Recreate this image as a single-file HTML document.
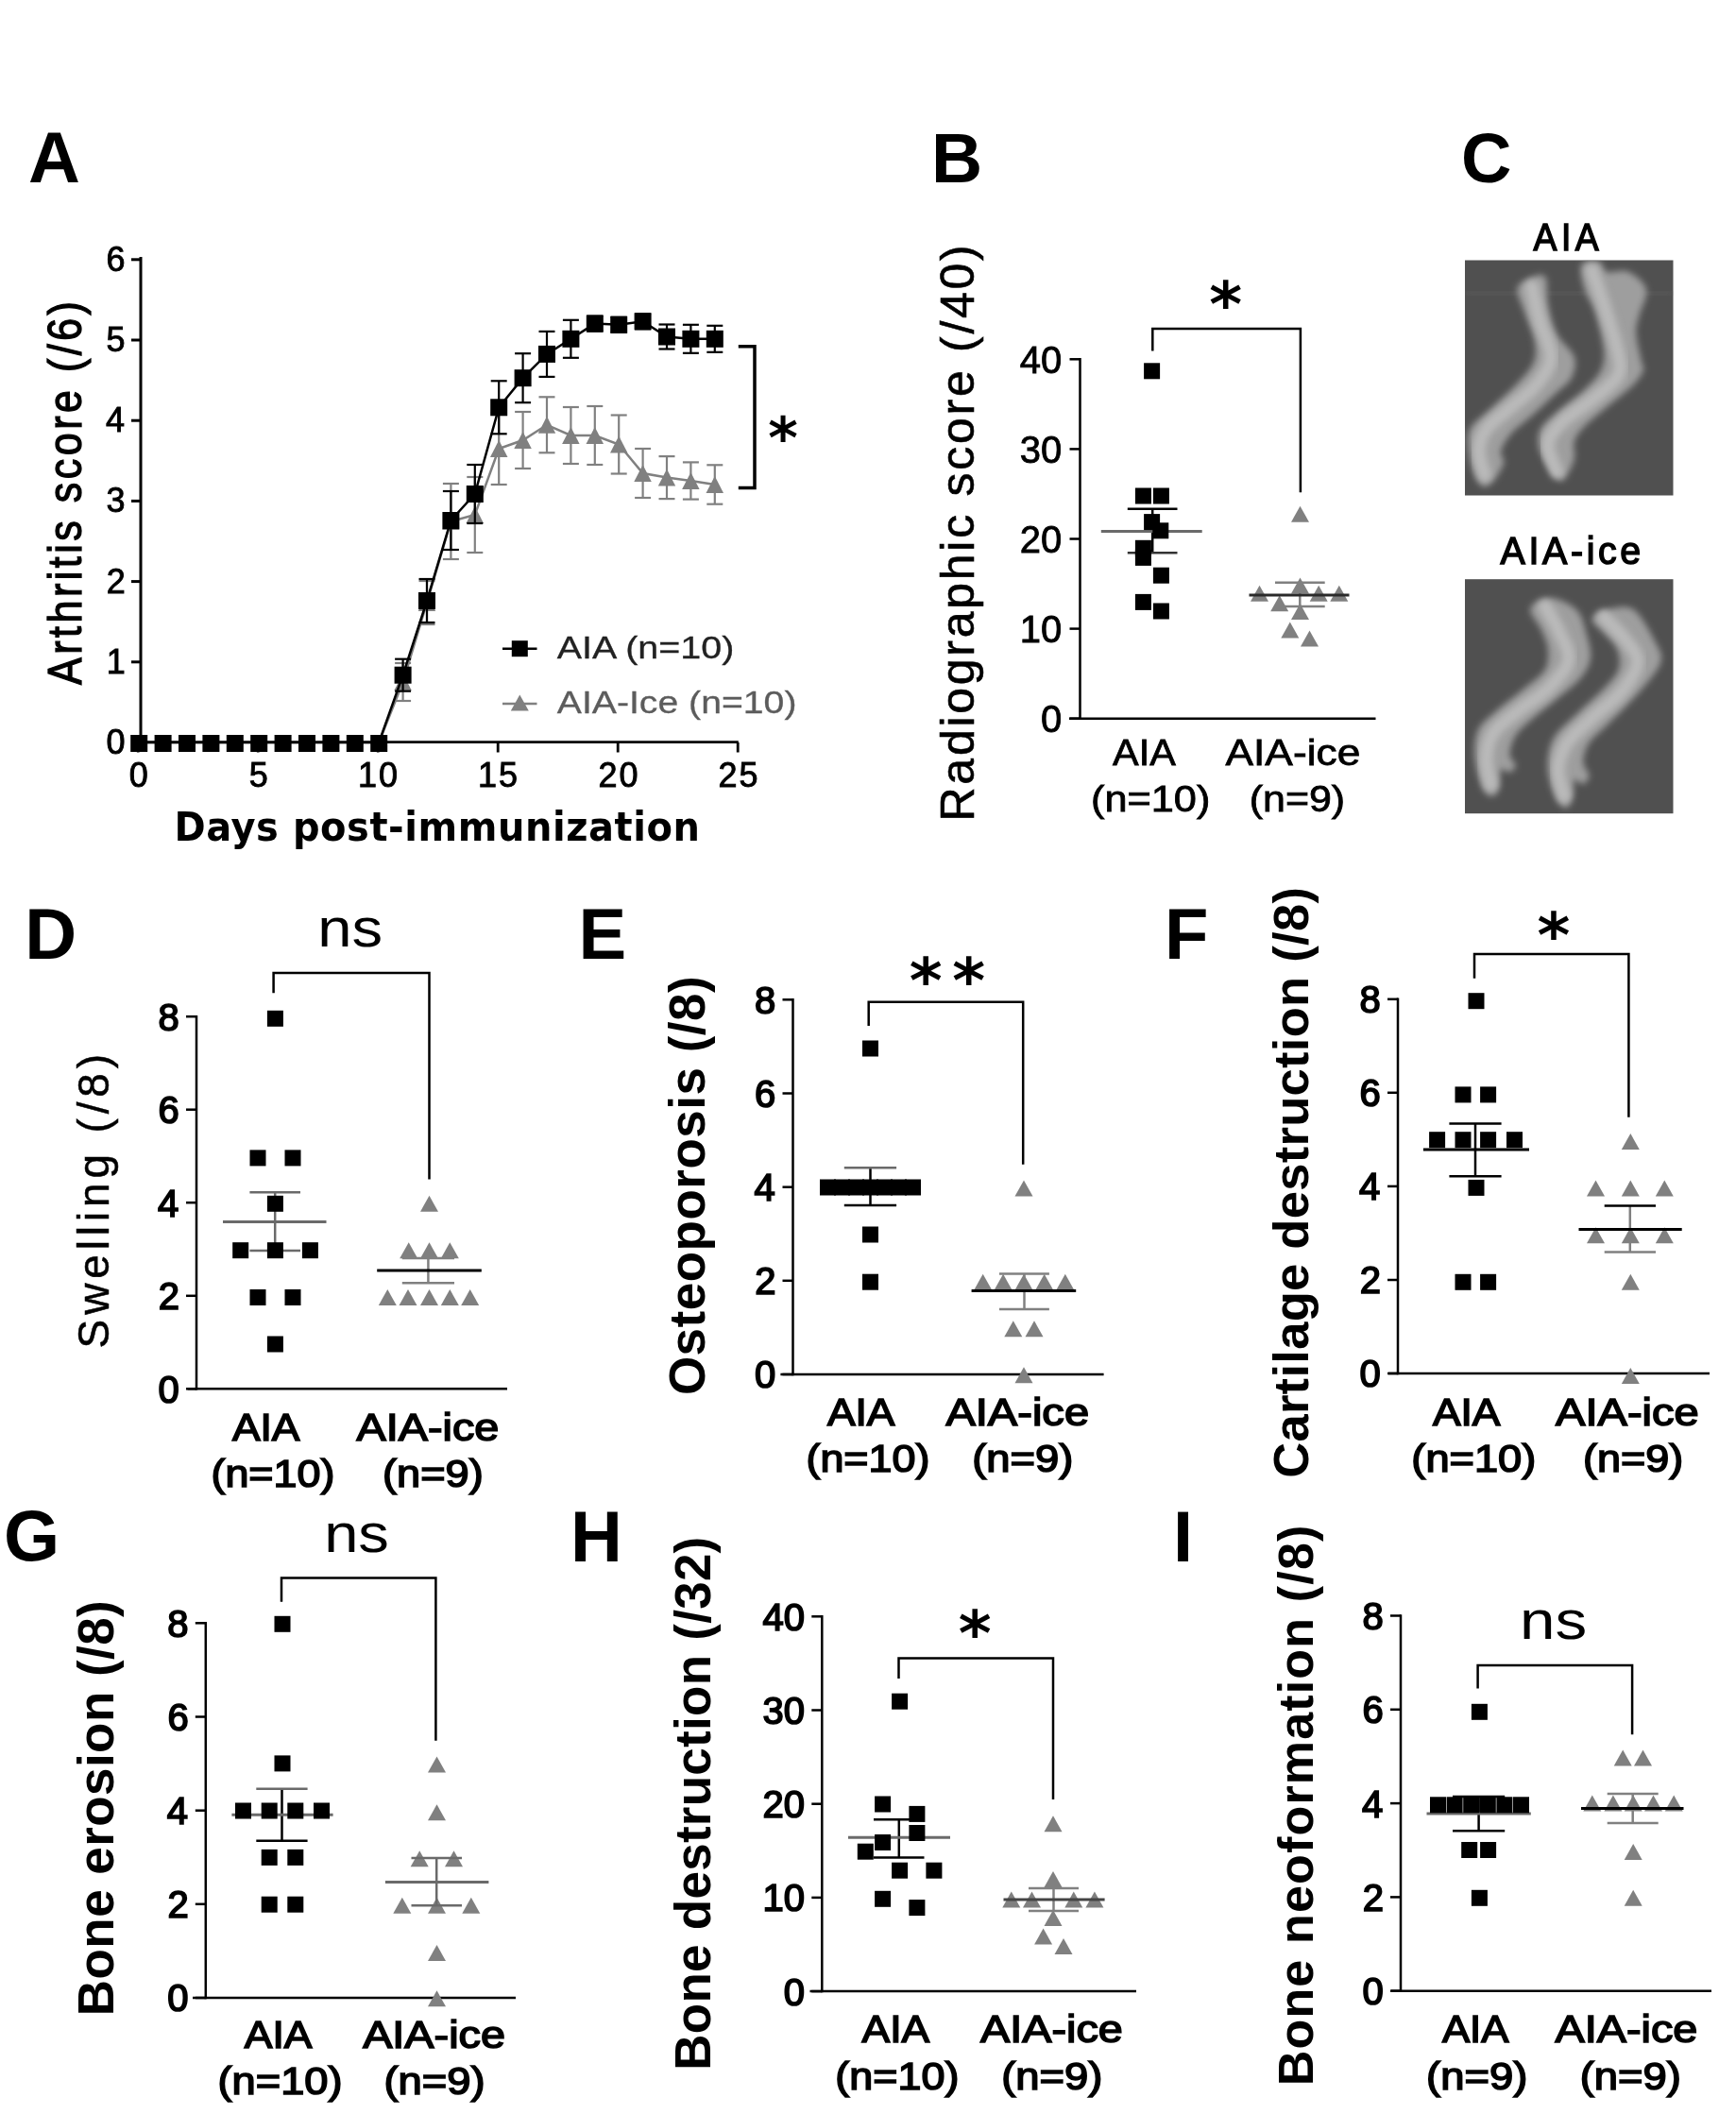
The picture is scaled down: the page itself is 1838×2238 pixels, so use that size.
<!DOCTYPE html>
<html><head><meta charset="utf-8"><title>Figure</title>
<style>html,body{margin:0;padding:0;background:#fff}svg{display:block;filter:blur(0.55px)}</style></head>
<body>
<svg width="1838" height="2238" viewBox="0 0 1838 2238">
<rect width="1838" height="2238" fill="#fff"/>
<defs><filter id="blur1" x="-10%" y="-10%" width="120%" height="120%"><feGaussianBlur stdDeviation="3.5"/></filter><filter id="blur2" x="-10%" y="-10%" width="120%" height="120%"><feGaussianBlur stdDeviation="3.5"/></filter></defs>
<text x="30.1" y="193.3" font-family='"Liberation Sans", sans-serif' font-size="76" font-weight="bold">A</text>
<line x1="149.0" y1="272.0" x2="149.0" y2="787.5" stroke="#000" stroke-width="3"/>
<line x1="147.5" y1="785.7" x2="781.8" y2="785.7" stroke="#000" stroke-width="2.8"/>
<line x1="139.0" y1="786.0" x2="149.0" y2="786.0" stroke="#000" stroke-width="3"/>
<line x1="139.0" y1="700.8" x2="149.0" y2="700.8" stroke="#000" stroke-width="3"/>
<line x1="139.0" y1="615.6" x2="149.0" y2="615.6" stroke="#000" stroke-width="3"/>
<line x1="139.0" y1="530.4" x2="149.0" y2="530.4" stroke="#000" stroke-width="3"/>
<line x1="139.0" y1="445.2" x2="149.0" y2="445.2" stroke="#000" stroke-width="3"/>
<line x1="139.0" y1="360.0" x2="149.0" y2="360.0" stroke="#000" stroke-width="3"/>
<line x1="139.0" y1="274.8" x2="149.0" y2="274.8" stroke="#000" stroke-width="3"/>
<line x1="146.2" y1="786.0" x2="146.2" y2="796.5" stroke="#000" stroke-width="2.8"/>
<line x1="273.2" y1="786.0" x2="273.2" y2="796.5" stroke="#000" stroke-width="2.8"/>
<line x1="400.2" y1="786.0" x2="400.2" y2="796.5" stroke="#000" stroke-width="2.8"/>
<line x1="527.2" y1="786.0" x2="527.2" y2="796.5" stroke="#000" stroke-width="2.8"/>
<line x1="654.2" y1="786.0" x2="654.2" y2="796.5" stroke="#000" stroke-width="2.8"/>
<line x1="781.2" y1="786.0" x2="781.2" y2="796.5" stroke="#000" stroke-width="2.8"/>
<text x="112.5" y="798.0" font-family='"Liberation Sans", sans-serif' font-size="36" font-weight="normal" letter-spacing="0.00" fill="#000" stroke="#000" stroke-width="0.9">0</text>
<text x="112.8" y="712.8" font-family='"Liberation Sans", sans-serif' font-size="36" font-weight="normal" letter-spacing="0.00" fill="#000" stroke="#000" stroke-width="0.9">1</text>
<text x="112.8" y="627.6" font-family='"Liberation Sans", sans-serif' font-size="36" font-weight="normal" letter-spacing="0.00" fill="#000" stroke="#000" stroke-width="0.9">2</text>
<text x="112.6" y="542.4" font-family='"Liberation Sans", sans-serif' font-size="36" font-weight="normal" letter-spacing="0.00" fill="#000" stroke="#000" stroke-width="0.9">3</text>
<text x="112.1" y="457.2" font-family='"Liberation Sans", sans-serif' font-size="36" font-weight="normal" letter-spacing="0.00" fill="#000" stroke="#000" stroke-width="0.9">4</text>
<text x="112.5" y="372.0" font-family='"Liberation Sans", sans-serif' font-size="36" font-weight="normal" letter-spacing="0.00" fill="#000" stroke="#000" stroke-width="0.9">5</text>
<text x="112.6" y="286.8" font-family='"Liberation Sans", sans-serif' font-size="36" font-weight="normal" letter-spacing="0.00" fill="#000" stroke="#000" stroke-width="0.9">6</text>
<text x="136.7" y="833.0" font-family='"Liberation Sans", sans-serif' font-size="36" font-weight="normal" letter-spacing="0.00" fill="#000" stroke="#000" stroke-width="0.9">0</text>
<text x="263.7" y="833.0" font-family='"Liberation Sans", sans-serif' font-size="36" font-weight="normal" letter-spacing="0.00" fill="#000" stroke="#000" stroke-width="0.9">5</text>
<text x="379.1" y="833.0" font-family='"Liberation Sans", sans-serif' font-size="36" font-weight="normal" letter-spacing="2.00" fill="#000" stroke="#000" stroke-width="0.9">10</text>
<text x="506.1" y="833.0" font-family='"Liberation Sans", sans-serif' font-size="36" font-weight="normal" letter-spacing="2.00" fill="#000" stroke="#000" stroke-width="0.9">15</text>
<text x="633.5" y="833.0" font-family='"Liberation Sans", sans-serif' font-size="36" font-weight="normal" letter-spacing="2.00" fill="#000" stroke="#000" stroke-width="0.9">20</text>
<text x="760.5" y="833.0" font-family='"Liberation Sans", sans-serif' font-size="36" font-weight="normal" letter-spacing="2.00" fill="#000" stroke="#000" stroke-width="0.9">25</text>
<text transform="translate(85.5,724.8) rotate(-90) scale(0.86,1)" x="-0.2" y="0" font-family='"Liberation Sans", sans-serif' font-size="50" font-weight="normal" letter-spacing="4.08" fill="#000" stroke="#000" stroke-width="1.3">Arthritis score (/6)</text>
<text transform="translate(188.0,890.0) scale(0.92,1)" x="-3.9" y="0" font-family='"DejaVu Sans", sans-serif' font-size="43.5" font-weight="bold" letter-spacing="0.58" fill="#000">Days post-immunization</text>
<path d="M147.2,786.0 L172.6,786.0 L198.0,786.0 L223.4,786.0 L248.8,786.0 L274.2,786.0 L299.6,786.0 L325.0,786.0 L350.4,786.0 L375.8,786.0 L401.2,786.0 L426.6,722.0 L452.0,638.0 L477.4,552.0 L502.8,545.0 L528.2,475.0 L553.6,466.0 L579.0,449.8 L604.4,461.0 L629.8,461.0 L655.2,470.5 L680.6,501.0 L706.0,505.6 L731.4,509.0 L756.8,513.0" stroke="#808080" stroke-width="2.5" fill="none"/>
<line x1="426.6" y1="702.0" x2="426.6" y2="742.0" stroke="#808080" stroke-width="2.2"/>
<line x1="418.1" y1="702.0" x2="435.1" y2="702.0" stroke="#808080" stroke-width="2.2"/>
<line x1="418.1" y1="742.0" x2="435.1" y2="742.0" stroke="#808080" stroke-width="2.2"/>
<line x1="452.0" y1="615.0" x2="452.0" y2="661.0" stroke="#808080" stroke-width="2.2"/>
<line x1="443.5" y1="615.0" x2="460.5" y2="615.0" stroke="#808080" stroke-width="2.2"/>
<line x1="443.5" y1="661.0" x2="460.5" y2="661.0" stroke="#808080" stroke-width="2.2"/>
<line x1="477.4" y1="512.0" x2="477.4" y2="592.0" stroke="#808080" stroke-width="2.2"/>
<line x1="468.9" y1="512.0" x2="485.9" y2="512.0" stroke="#808080" stroke-width="2.2"/>
<line x1="468.9" y1="592.0" x2="485.9" y2="592.0" stroke="#808080" stroke-width="2.2"/>
<line x1="502.8" y1="505.0" x2="502.8" y2="585.0" stroke="#808080" stroke-width="2.2"/>
<line x1="494.3" y1="505.0" x2="511.3" y2="505.0" stroke="#808080" stroke-width="2.2"/>
<line x1="494.3" y1="585.0" x2="511.3" y2="585.0" stroke="#808080" stroke-width="2.2"/>
<line x1="528.2" y1="437.0" x2="528.2" y2="513.0" stroke="#808080" stroke-width="2.2"/>
<line x1="519.7" y1="437.0" x2="536.7" y2="437.0" stroke="#808080" stroke-width="2.2"/>
<line x1="519.7" y1="513.0" x2="536.7" y2="513.0" stroke="#808080" stroke-width="2.2"/>
<line x1="553.6" y1="436.0" x2="553.6" y2="496.0" stroke="#808080" stroke-width="2.2"/>
<line x1="545.1" y1="436.0" x2="562.1" y2="436.0" stroke="#808080" stroke-width="2.2"/>
<line x1="545.1" y1="496.0" x2="562.1" y2="496.0" stroke="#808080" stroke-width="2.2"/>
<line x1="579.0" y1="420.3" x2="579.0" y2="479.3" stroke="#808080" stroke-width="2.2"/>
<line x1="570.5" y1="420.3" x2="587.5" y2="420.3" stroke="#808080" stroke-width="2.2"/>
<line x1="570.5" y1="479.3" x2="587.5" y2="479.3" stroke="#808080" stroke-width="2.2"/>
<line x1="604.4" y1="431.0" x2="604.4" y2="491.0" stroke="#808080" stroke-width="2.2"/>
<line x1="595.9" y1="431.0" x2="612.9" y2="431.0" stroke="#808080" stroke-width="2.2"/>
<line x1="595.9" y1="491.0" x2="612.9" y2="491.0" stroke="#808080" stroke-width="2.2"/>
<line x1="629.8" y1="430.0" x2="629.8" y2="492.0" stroke="#808080" stroke-width="2.2"/>
<line x1="621.3" y1="430.0" x2="638.3" y2="430.0" stroke="#808080" stroke-width="2.2"/>
<line x1="621.3" y1="492.0" x2="638.3" y2="492.0" stroke="#808080" stroke-width="2.2"/>
<line x1="655.2" y1="439.5" x2="655.2" y2="501.5" stroke="#808080" stroke-width="2.2"/>
<line x1="646.7" y1="439.5" x2="663.7" y2="439.5" stroke="#808080" stroke-width="2.2"/>
<line x1="646.7" y1="501.5" x2="663.7" y2="501.5" stroke="#808080" stroke-width="2.2"/>
<line x1="680.6" y1="475.0" x2="680.6" y2="527.0" stroke="#808080" stroke-width="2.2"/>
<line x1="672.1" y1="475.0" x2="689.1" y2="475.0" stroke="#808080" stroke-width="2.2"/>
<line x1="672.1" y1="527.0" x2="689.1" y2="527.0" stroke="#808080" stroke-width="2.2"/>
<line x1="706.0" y1="483.1" x2="706.0" y2="528.1" stroke="#808080" stroke-width="2.2"/>
<line x1="697.5" y1="483.1" x2="714.5" y2="483.1" stroke="#808080" stroke-width="2.2"/>
<line x1="697.5" y1="528.1" x2="714.5" y2="528.1" stroke="#808080" stroke-width="2.2"/>
<line x1="731.4" y1="489.4" x2="731.4" y2="528.6" stroke="#808080" stroke-width="2.2"/>
<line x1="722.9" y1="489.4" x2="739.9" y2="489.4" stroke="#808080" stroke-width="2.2"/>
<line x1="722.9" y1="528.6" x2="739.9" y2="528.6" stroke="#808080" stroke-width="2.2"/>
<line x1="756.8" y1="492.3" x2="756.8" y2="533.7" stroke="#808080" stroke-width="2.2"/>
<line x1="748.3" y1="492.3" x2="765.3" y2="492.3" stroke="#808080" stroke-width="2.2"/>
<line x1="748.3" y1="533.7" x2="765.3" y2="533.7" stroke="#808080" stroke-width="2.2"/>
<polygon points="426.6,713.0 435.8,731.0 417.3,731.0" fill="#808080"/>
<polygon points="452.0,629.0 461.2,647.0 442.7,647.0" fill="#808080"/>
<polygon points="477.4,543.0 486.6,561.0 468.1,561.0" fill="#808080"/>
<polygon points="502.8,536.0 512.0,554.0 493.5,554.0" fill="#808080"/>
<polygon points="528.2,466.0 537.5,484.0 519.0,484.0" fill="#808080"/>
<polygon points="553.6,457.0 562.8,475.0 544.3,475.0" fill="#808080"/>
<polygon points="579.0,440.8 588.2,458.8 569.8,458.8" fill="#808080"/>
<polygon points="604.4,452.0 613.6,470.0 595.1,470.0" fill="#808080"/>
<polygon points="629.8,452.0 639.0,470.0 620.5,470.0" fill="#808080"/>
<polygon points="655.2,461.5 664.5,479.5 646.0,479.5" fill="#808080"/>
<polygon points="680.6,492.0 689.8,510.0 671.3,510.0" fill="#808080"/>
<polygon points="706.0,496.6 715.2,514.6 696.8,514.6" fill="#808080"/>
<polygon points="731.4,500.0 740.6,518.0 722.1,518.0" fill="#808080"/>
<polygon points="756.8,504.0 766.0,522.0 747.5,522.0" fill="#808080"/>
<path d="M147.2,786.0 L172.6,786.0 L198.0,786.0 L223.4,786.0 L248.8,786.0 L274.2,786.0 L299.6,786.0 L325.0,786.0 L350.4,786.0 L375.8,786.0 L401.2,786.0 L426.6,714.7 L452.0,636.0 L477.4,551.0 L502.8,523.0 L528.2,431.3 L553.6,400.2 L579.0,374.9 L604.4,358.8 L629.8,342.6 L655.2,343.8 L680.6,340.3 L706.0,356.5 L731.4,358.8 L756.8,358.8" stroke="#000" stroke-width="2.5" fill="none"/>
<line x1="426.6" y1="697.7" x2="426.6" y2="731.7" stroke="#000" stroke-width="2.2"/>
<line x1="418.1" y1="697.7" x2="435.1" y2="697.7" stroke="#000" stroke-width="2.2"/>
<line x1="418.1" y1="731.7" x2="435.1" y2="731.7" stroke="#000" stroke-width="2.2"/>
<line x1="452.0" y1="613.0" x2="452.0" y2="659.0" stroke="#000" stroke-width="2.2"/>
<line x1="443.5" y1="613.0" x2="460.5" y2="613.0" stroke="#000" stroke-width="2.2"/>
<line x1="443.5" y1="659.0" x2="460.5" y2="659.0" stroke="#000" stroke-width="2.2"/>
<line x1="477.4" y1="520.0" x2="477.4" y2="582.0" stroke="#000" stroke-width="2.2"/>
<line x1="468.9" y1="520.0" x2="485.9" y2="520.0" stroke="#000" stroke-width="2.2"/>
<line x1="468.9" y1="582.0" x2="485.9" y2="582.0" stroke="#000" stroke-width="2.2"/>
<line x1="502.8" y1="492.0" x2="502.8" y2="554.0" stroke="#000" stroke-width="2.2"/>
<line x1="494.3" y1="492.0" x2="511.3" y2="492.0" stroke="#000" stroke-width="2.2"/>
<line x1="494.3" y1="554.0" x2="511.3" y2="554.0" stroke="#000" stroke-width="2.2"/>
<line x1="528.2" y1="403.3" x2="528.2" y2="459.3" stroke="#000" stroke-width="2.2"/>
<line x1="519.7" y1="403.3" x2="536.7" y2="403.3" stroke="#000" stroke-width="2.2"/>
<line x1="519.7" y1="459.3" x2="536.7" y2="459.3" stroke="#000" stroke-width="2.2"/>
<line x1="553.6" y1="374.2" x2="553.6" y2="426.2" stroke="#000" stroke-width="2.2"/>
<line x1="545.1" y1="374.2" x2="562.1" y2="374.2" stroke="#000" stroke-width="2.2"/>
<line x1="545.1" y1="426.2" x2="562.1" y2="426.2" stroke="#000" stroke-width="2.2"/>
<line x1="579.0" y1="350.9" x2="579.0" y2="398.9" stroke="#000" stroke-width="2.2"/>
<line x1="570.5" y1="350.9" x2="587.5" y2="350.9" stroke="#000" stroke-width="2.2"/>
<line x1="570.5" y1="398.9" x2="587.5" y2="398.9" stroke="#000" stroke-width="2.2"/>
<line x1="604.4" y1="338.8" x2="604.4" y2="378.8" stroke="#000" stroke-width="2.2"/>
<line x1="595.9" y1="338.8" x2="612.9" y2="338.8" stroke="#000" stroke-width="2.2"/>
<line x1="595.9" y1="378.8" x2="612.9" y2="378.8" stroke="#000" stroke-width="2.2"/>
<line x1="629.8" y1="334.6" x2="629.8" y2="350.6" stroke="#000" stroke-width="2.2"/>
<line x1="621.3" y1="334.6" x2="638.3" y2="334.6" stroke="#000" stroke-width="2.2"/>
<line x1="621.3" y1="350.6" x2="638.3" y2="350.6" stroke="#000" stroke-width="2.2"/>
<line x1="655.2" y1="335.8" x2="655.2" y2="351.8" stroke="#000" stroke-width="2.2"/>
<line x1="646.7" y1="335.8" x2="663.7" y2="335.8" stroke="#000" stroke-width="2.2"/>
<line x1="646.7" y1="351.8" x2="663.7" y2="351.8" stroke="#000" stroke-width="2.2"/>
<line x1="680.6" y1="332.3" x2="680.6" y2="348.3" stroke="#000" stroke-width="2.2"/>
<line x1="672.1" y1="332.3" x2="689.1" y2="332.3" stroke="#000" stroke-width="2.2"/>
<line x1="672.1" y1="348.3" x2="689.1" y2="348.3" stroke="#000" stroke-width="2.2"/>
<line x1="706.0" y1="343.5" x2="706.0" y2="369.5" stroke="#000" stroke-width="2.2"/>
<line x1="697.5" y1="343.5" x2="714.5" y2="343.5" stroke="#000" stroke-width="2.2"/>
<line x1="697.5" y1="369.5" x2="714.5" y2="369.5" stroke="#000" stroke-width="2.2"/>
<line x1="731.4" y1="343.8" x2="731.4" y2="373.8" stroke="#000" stroke-width="2.2"/>
<line x1="722.9" y1="343.8" x2="739.9" y2="343.8" stroke="#000" stroke-width="2.2"/>
<line x1="722.9" y1="373.8" x2="739.9" y2="373.8" stroke="#000" stroke-width="2.2"/>
<line x1="756.8" y1="344.8" x2="756.8" y2="372.8" stroke="#000" stroke-width="2.2"/>
<line x1="748.3" y1="344.8" x2="765.3" y2="344.8" stroke="#000" stroke-width="2.2"/>
<line x1="748.3" y1="372.8" x2="765.3" y2="372.8" stroke="#000" stroke-width="2.2"/>
<rect x="138.2" y="778.0" width="18" height="18" fill="#000"/>
<rect x="163.6" y="778.0" width="18" height="18" fill="#000"/>
<rect x="189.0" y="778.0" width="18" height="18" fill="#000"/>
<rect x="214.4" y="778.0" width="18" height="18" fill="#000"/>
<rect x="239.8" y="778.0" width="18" height="18" fill="#000"/>
<rect x="265.2" y="778.0" width="18" height="18" fill="#000"/>
<rect x="290.6" y="778.0" width="18" height="18" fill="#000"/>
<rect x="316.0" y="778.0" width="18" height="18" fill="#000"/>
<rect x="341.4" y="778.0" width="18" height="18" fill="#000"/>
<rect x="366.8" y="778.0" width="18" height="18" fill="#000"/>
<rect x="392.2" y="778.0" width="18" height="18" fill="#000"/>
<rect x="417.6" y="705.7" width="18" height="18" fill="#000"/>
<rect x="443.0" y="627.0" width="18" height="18" fill="#000"/>
<rect x="468.4" y="542.0" width="18" height="18" fill="#000"/>
<rect x="493.8" y="514.0" width="18" height="18" fill="#000"/>
<rect x="519.2" y="422.3" width="18" height="18" fill="#000"/>
<rect x="544.6" y="391.2" width="18" height="18" fill="#000"/>
<rect x="570.0" y="365.9" width="18" height="18" fill="#000"/>
<rect x="595.4" y="349.8" width="18" height="18" fill="#000"/>
<rect x="620.8" y="333.6" width="18" height="18" fill="#000"/>
<rect x="646.2" y="334.8" width="18" height="18" fill="#000"/>
<rect x="671.6" y="331.3" width="18" height="18" fill="#000"/>
<rect x="697.0" y="347.5" width="18" height="18" fill="#000"/>
<rect x="722.4" y="349.8" width="18" height="18" fill="#000"/>
<rect x="747.8" y="349.8" width="18" height="18" fill="#000"/>
<line x1="532.0" y1="686.7" x2="568.5" y2="686.7" stroke="#000" stroke-width="2.5"/>
<rect x="541.8" y="678.2" width="17" height="17" fill="#000"/>
<line x1="532.0" y1="745.0" x2="568.5" y2="745.0" stroke="#808080" stroke-width="2.5"/>
<polygon points="550.3,735.5 559.8,752.5 540.8,752.5" fill="#808080"/>
<text transform="translate(590.0,696.5) scale(1.1614,1)" x="-0.2" y="0" font-family='"Liberation Sans", sans-serif' font-size="34" font-weight="normal" letter-spacing="0.00" fill="#222" stroke="#222" stroke-width="0.3">AIA (n=10)</text>
<text transform="translate(590.0,754.5) scale(1.1526,1)" x="-0.2" y="0" font-family='"Liberation Sans", sans-serif' font-size="34" font-weight="normal" letter-spacing="-0.00" fill="#5c5c5c" stroke="#5c5c5c" stroke-width="0.3">AIA-Ice (n=10)</text>
<path d="M781.8,366.8 H799 V516.6 H781.8" stroke="#000" stroke-width="3.5" fill="none"/>
<text x="813.3" y="484.7" font-family='"DejaVu Sans", sans-serif' font-size="60.4" font-weight="bold" fill="#000">*</text>
<text x="986.1" y="192.6" font-family='"Liberation Sans", sans-serif' font-size="75" font-weight="bold">B</text>
<line x1="1143.5" y1="379.1" x2="1143.5" y2="762.0" stroke="#000" stroke-width="2.5"/>
<line x1="1132.0" y1="760.7" x2="1456.5" y2="760.7" stroke="#000" stroke-width="2.5"/>
<line x1="1132.5" y1="760.7" x2="1143.5" y2="760.7" stroke="#000" stroke-width="2.5"/>
<text x="1101.9" y="775.1" font-family='"Liberation Sans", sans-serif' font-size="40" font-weight="normal" letter-spacing="0.00" fill="#000" stroke="#000" stroke-width="0.8">0</text>
<line x1="1132.5" y1="665.6" x2="1143.5" y2="665.6" stroke="#000" stroke-width="2.5"/>
<text x="1079.7" y="680.0" font-family='"Liberation Sans", sans-serif' font-size="40" font-weight="normal" letter-spacing="-0.00" fill="#000" stroke="#000" stroke-width="0.8">10</text>
<line x1="1132.5" y1="570.5" x2="1143.5" y2="570.5" stroke="#000" stroke-width="2.5"/>
<text x="1079.7" y="584.9" font-family='"Liberation Sans", sans-serif' font-size="40" font-weight="normal" letter-spacing="-0.00" fill="#000" stroke="#000" stroke-width="0.8">20</text>
<line x1="1132.5" y1="475.4" x2="1143.5" y2="475.4" stroke="#000" stroke-width="2.5"/>
<text x="1079.7" y="489.8" font-family='"Liberation Sans", sans-serif' font-size="40" font-weight="normal" letter-spacing="0.00" fill="#000" stroke="#000" stroke-width="0.8">30</text>
<line x1="1132.5" y1="380.3" x2="1143.5" y2="380.3" stroke="#000" stroke-width="2.5"/>
<text x="1079.7" y="394.7" font-family='"Liberation Sans", sans-serif' font-size="40" font-weight="normal" letter-spacing="-0.00" fill="#000" stroke="#000" stroke-width="0.8">40</text>
<line x1="1220.2" y1="538.8" x2="1220.2" y2="585.3" stroke="#000" stroke-width="2.5"/>
<line x1="1193.8" y1="538.8" x2="1246.5" y2="538.8" stroke="#000" stroke-width="2.5"/>
<line x1="1193.8" y1="585.3" x2="1246.5" y2="585.3" stroke="#333" stroke-width="2.5"/>
<line x1="1165.8" y1="562.4" x2="1272.7" y2="562.4" stroke="#6a6a6a" stroke-width="3"/>
<rect x="1211.1" y="384.3" width="17" height="17" fill="#000"/>
<rect x="1201.9" y="516.5" width="17" height="17" fill="#000"/>
<rect x="1220.9" y="516.5" width="17" height="17" fill="#000"/>
<rect x="1211.1" y="544.1" width="17" height="17" fill="#000"/>
<rect x="1220.3" y="553.3" width="17" height="17" fill="#000"/>
<rect x="1201.9" y="571.8" width="17" height="17" fill="#000"/>
<rect x="1201.9" y="581.9" width="17" height="17" fill="#000"/>
<rect x="1220.9" y="600.7" width="17" height="17" fill="#000"/>
<rect x="1201.9" y="628.9" width="17" height="17" fill="#000"/>
<rect x="1220.9" y="638.5" width="17" height="17" fill="#000"/>
<polygon points="1376.5,535.8 1386.0,552.8 1367.0,552.8" fill="#808080"/>
<polygon points="1376.5,611.4 1386.0,628.4 1367.0,628.4" fill="#808080"/>
<polygon points="1333.5,619.7 1343.0,636.7 1324.0,636.7" fill="#808080"/>
<polygon points="1396.2,619.7 1405.7,636.7 1386.7,636.7" fill="#808080"/>
<polygon points="1417.8,619.7 1427.3,636.7 1408.3,636.7" fill="#808080"/>
<polygon points="1354.7,630.2 1364.2,647.2 1345.2,647.2" fill="#808080"/>
<polygon points="1376.5,639.1 1386.0,656.1 1367.0,656.1" fill="#808080"/>
<polygon points="1365.8,658.4 1375.3,675.4 1356.3,675.4" fill="#808080"/>
<polygon points="1386.5,667.6 1396.0,684.6 1377.0,684.6" fill="#808080"/>
<line x1="1376.3" y1="616.8" x2="1376.3" y2="642.0" stroke="#808080" stroke-width="2.5"/>
<line x1="1350.0" y1="616.8" x2="1402.7" y2="616.8" stroke="#808080" stroke-width="2.5"/>
<line x1="1350.0" y1="642.0" x2="1402.7" y2="642.0" stroke="#808080" stroke-width="2.5"/>
<line x1="1322.5" y1="630.0" x2="1428.5" y2="630.0" stroke="#2a2a2a" stroke-width="3"/>
<path d="M1220.3,371.5 V348 H1376.9 V521.3" stroke="#000" stroke-width="2.5" fill="none"/>
<text transform="translate(1178.3,810.3) scale(1.0718,1)" x="-0.2" y="0" font-family='"Liberation Sans", sans-serif' font-size="38.6" font-weight="normal" letter-spacing="-0.00" fill="#000" stroke="#000" stroke-width="0.8">AIA</text>
<text transform="translate(1297.7,810.3) scale(1.1482,1)" x="-0.2" y="0" font-family='"Liberation Sans", sans-serif' font-size="38.6" font-weight="normal" letter-spacing="0.00" fill="#000" stroke="#000" stroke-width="0.8">AIA-ice</text>
<text transform="translate(1157.6,858.7) scale(1.1215,1)" x="-2.3" y="0" font-family='"Liberation Sans", sans-serif' font-size="38.6" font-weight="normal" letter-spacing="0.00" fill="#000" stroke="#000" stroke-width="0.8">(n=10)</text>
<text transform="translate(1325.3,858.7) scale(1.1114,1)" x="-2.3" y="0" font-family='"Liberation Sans", sans-serif' font-size="38.6" font-weight="normal" letter-spacing="0.00" fill="#000" stroke="#000" stroke-width="0.8">(n=9)</text>
<text x="1280.3" y="344.8" font-family='"DejaVu Sans", sans-serif' font-size="66.7" font-weight="bold" fill="#000">*</text>
<text transform="translate(1030.5,865.5) rotate(-90)" x="-4.0" y="0" font-family='"Liberation Sans", sans-serif' font-size="50" font-weight="normal" letter-spacing="2.73" fill="#000" stroke="#000" stroke-width="0.6">Radiographic score (/40)</text>
<text x="1547.1" y="192.6" font-family='"Liberation Sans", sans-serif' font-size="74" font-weight="bold">C</text>
<text transform="translate(1623.6,264.8) scale(0.9,1)" x="-0.2" y="0" font-family='"Liberation Sans", sans-serif' font-size="41.5" font-weight="normal" letter-spacing="5.09" fill="#000" stroke="#000" stroke-width="1.5">AIA</text>
<text transform="translate(1588.7,596.6) scale(0.95,1)" x="-0.2" y="0" font-family='"Liberation Sans", sans-serif' font-size="41.5" font-weight="normal" letter-spacing="3.81" fill="#000" stroke="#000" stroke-width="1.5">AIA-ice</text>
<g transform="translate(1551,275.5)"><clipPath id="xc1"><rect width="220.5" height="249"/></clipPath>
<rect width="220.5" height="249" fill="#505050"/>
<g clip-path="url(#xc1)">
<rect x="0" y="33.4" width="220.5" height="3" fill="#5e5e5e" filter="url(#blur1)"/>
<path d="M55.2,31.1 C55.7,25.4 61.2,22.6 66.1,20.2 C71.0,17.9 81.1,12.7 84.8,17.1 C88.4,21.5 85.8,36.5 87.9,46.7 C89.9,56.8 92.5,68.4 97.2,77.8 C101.9,87.1 113.3,94.9 115.9,102.6 C118.5,110.4 115.9,118.2 112.8,124.4 C109.6,130.6 103.9,133.5 97.2,140.0 C90.5,146.4 80.4,156.0 72.3,163.3 C64.3,170.6 54.7,177.0 49.0,183.5 C43.3,190.0 39.4,197.0 38.1,202.2 C36.8,207.4 42.5,209.4 41.2,214.6 C39.9,219.8 34.0,229.1 30.3,233.3 C26.7,237.4 22.8,240.5 19.4,239.5 C16.1,238.5 12.7,233.3 10.1,227.1 C7.5,220.8 4.7,210.2 3.9,202.2 C3.1,194.1 1.8,186.1 5.4,178.8 C9.1,171.6 17.6,166.4 25.7,158.6 C33.7,150.9 45.9,140.5 53.7,132.2 C61.4,123.9 68.9,116.6 72.3,108.9 C75.7,101.1 75.4,94.6 73.9,85.5 C72.3,76.5 66.1,63.5 63.0,54.4 C59.9,45.4 54.7,36.8 55.2,31.1Z" fill="#9e9e9e" filter="url(#blur1)"/>
<path d="M123.6,4.7 C126.2,-0.3 137.9,0.3 142.3,1.6 C146.7,2.9 144.9,10.6 150.1,12.4 C155.3,14.3 166.4,9.3 173.4,12.4 C180.4,15.6 190.3,23.3 192.1,31.1 C193.9,38.9 186.1,51.3 184.3,59.1 C182.5,66.9 180.7,69.5 181.2,77.8 C181.7,86.1 186.1,102.4 187.4,108.9 C188.7,115.3 190.5,112.8 189.0,116.6 C187.4,120.5 184.6,125.7 178.1,132.2 C171.6,138.7 158.6,148.3 150.1,155.5 C141.5,162.8 132.5,169.8 126.7,175.7 C121.0,181.7 117.7,185.6 115.9,191.3 C114.0,197.0 117.2,204.0 115.9,210.0 C114.6,215.9 110.7,223.2 108.1,227.1 C105.5,230.9 103.7,234.8 100.3,233.3 C96.9,231.7 91.5,223.4 87.9,217.7 C84.2,212.0 79.8,205.5 78.5,199.1 C77.2,192.6 76.5,185.6 80.1,178.8 C83.7,172.1 92.5,165.6 100.3,158.6 C108.1,151.6 119.5,143.9 126.7,136.9 C134.0,129.9 140.5,123.9 143.9,116.6 C147.2,109.4 148.0,103.7 147.0,93.3 C145.9,82.9 141.0,64.8 137.6,54.4 C134.3,44.1 129.1,39.4 126.7,31.1 C124.4,22.8 121.0,9.6 123.6,4.7Z" fill="#9e9e9e" filter="url(#blur1)"/>
<path d="M70.8,28.0 C72.1,33.7 75.2,49.8 78.5,62.2 C81.9,74.7 91.5,91.0 91.0,102.6 C90.5,114.3 82.4,123.4 75.4,132.2 C68.4,141.0 57.8,147.7 49.0,155.5 C40.2,163.3 28.3,171.1 22.6,178.8 C16.8,186.6 15.0,194.1 14.8,202.2 C14.5,210.2 20.0,222.9 21.0,227.1" fill="none" stroke="#bababa" stroke-width="14" stroke-linecap="round" stroke-linejoin="round" filter="url(#blur1)"/>
<path d="M134.5,10.9 C136.6,16.8 142.6,32.9 147.0,46.7 C151.4,60.4 158.4,80.9 161.0,93.3 C163.6,105.8 166.9,112.2 162.5,121.3 C158.1,130.4 144.4,139.5 134.5,147.7 C124.7,156.0 111.2,163.3 103.4,171.1 C95.6,178.8 88.9,185.6 87.9,194.4 C86.8,203.2 95.6,219.0 97.2,224.0" fill="none" stroke="#bababa" stroke-width="14" stroke-linecap="round" stroke-linejoin="round" filter="url(#blur1)"/>
</g></g>
<g transform="translate(1551,613.2)"><clipPath id="xc2"><rect width="220.5" height="248"/></clipPath>
<rect width="220.5" height="248" fill="#505050"/>
<g clip-path="url(#xc2)">
<path d="M69.2,33.4 C68.9,28.5 73.9,24.6 78.5,22.6 C83.2,20.5 90.5,19.2 97.2,21.0 C103.9,22.8 113.8,27.5 119.0,33.4 C124.2,39.4 126.0,48.5 128.3,56.8 C130.6,65.1 134.0,75.2 133.0,83.2 C131.9,91.2 128.0,97.7 122.1,105.0 C116.1,112.2 105.5,119.8 97.2,126.7 C88.9,133.7 79.6,140.5 72.3,147.0 C65.1,153.4 57.8,159.1 53.7,165.6 C49.5,172.1 47.4,180.7 47.4,185.8 C47.4,191.0 53.7,193.6 53.7,196.7 C53.7,199.8 50.0,203.7 47.4,204.5 C44.8,205.3 39.9,198.8 38.1,201.4 C36.3,204.0 37.8,215.4 36.5,220.1 C35.3,224.7 32.9,228.6 30.3,229.4 C27.7,230.2 23.8,228.9 21.0,224.7 C18.1,220.6 15.0,211.8 13.2,204.5 C11.4,197.3 9.8,189.0 10.1,181.2 C10.4,173.4 10.9,164.9 14.8,157.9 C18.7,150.9 25.1,146.4 33.4,139.2 C41.7,131.9 56.0,121.6 64.5,114.3 C73.1,107.1 80.9,102.4 84.8,95.6 C88.6,88.9 88.6,81.1 87.9,73.9 C87.1,66.6 83.2,58.8 80.1,52.1 C77.0,45.4 69.5,38.4 69.2,33.4Z" fill="#9e9e9e" filter="url(#blur2)"/>
<path d="M134.5,42.8 C134.5,38.9 139.7,35.3 147.0,33.4 C154.2,31.6 168.7,25.9 178.1,31.9 C187.4,37.8 198.0,60.1 203.0,69.2 C207.9,78.3 208.7,80.4 207.6,86.3 C206.6,92.3 202.4,97.5 196.7,105.0 C191.0,112.5 181.2,123.1 173.4,131.4 C165.6,139.7 157.1,147.7 150.1,154.7 C143.1,161.7 135.6,166.9 131.4,173.4 C127.3,179.9 125.2,187.9 125.2,193.6 C125.2,199.3 131.4,203.7 131.4,207.6 C131.4,211.5 127.8,216.2 125.2,217.0 C122.6,217.7 117.7,210.2 115.9,212.3 C114.0,214.4 115.6,224.5 114.3,229.4 C113.0,234.3 110.7,240.8 108.1,241.8 C105.5,242.9 101.9,240.5 98.8,235.6 C95.6,230.7 91.2,220.1 89.4,212.3 C87.6,204.5 86.8,196.7 87.9,189.0 C88.9,181.2 90.5,173.4 95.6,165.6 C100.8,157.9 110.4,150.6 119.0,142.3 C127.5,134.0 139.7,123.6 147.0,115.9 C154.2,108.1 160.2,102.6 162.5,95.6 C164.9,88.6 163.6,80.4 161.0,73.9 C158.4,67.4 151.4,61.9 147.0,56.8 C142.6,51.6 134.5,46.7 134.5,42.8Z" fill="#9e9e9e" filter="url(#blur2)"/>
<path d="M84.8,28.8 C87.4,33.4 96.2,47.2 100.3,56.8 C104.5,66.4 111.7,76.5 109.6,86.3 C107.6,96.2 96.7,107.1 87.9,115.9 C79.1,124.7 66.4,131.4 56.8,139.2 C47.2,147.0 36.0,154.2 30.3,162.5 C24.6,170.8 23.1,179.9 22.6,189.0 C22.0,198.0 26.4,212.3 27.2,217.0" fill="none" stroke="#bababa" stroke-width="14" stroke-linecap="round" stroke-linejoin="round" filter="url(#blur2)"/>
<path d="M147.0,39.7 C150.9,43.8 164.3,56.5 170.3,64.5 C176.3,72.6 183.5,78.8 182.7,87.9 C182.0,96.9 173.7,109.1 165.6,119.0 C157.6,128.8 144.1,137.9 134.5,147.0 C124.9,156.0 114.0,164.3 108.1,173.4 C102.1,182.5 99.3,192.1 98.8,201.4 C98.2,210.7 103.9,224.7 105.0,229.4" fill="none" stroke="#bababa" stroke-width="14" stroke-linecap="round" stroke-linejoin="round" filter="url(#blur2)"/>
</g></g>
<text x="26.2" y="1015.2" font-family='"Liberation Sans", sans-serif' font-size="76" font-weight="bold">D</text>
<line x1="208.0" y1="1075.0" x2="208.0" y2="1471.5" stroke="#000" stroke-width="2.5"/>
<line x1="198.7" y1="1470.3" x2="537.0" y2="1470.3" stroke="#000" stroke-width="2.5"/>
<line x1="197.0" y1="1470.3" x2="208.0" y2="1470.3" stroke="#000" stroke-width="2.5"/>
<text x="167.4" y="1484.7" font-family='"Liberation Sans", sans-serif' font-size="40" font-weight="normal" letter-spacing="0.00" fill="#000" stroke="#000" stroke-width="1.7">0</text>
<line x1="197.0" y1="1371.8" x2="208.0" y2="1371.8" stroke="#000" stroke-width="2.5"/>
<text x="167.8" y="1386.2" font-family='"Liberation Sans", sans-serif' font-size="40" font-weight="normal" letter-spacing="0.00" fill="#000" stroke="#000" stroke-width="1.7">2</text>
<line x1="197.0" y1="1273.2" x2="208.0" y2="1273.2" stroke="#000" stroke-width="2.5"/>
<text x="167.0" y="1287.7" font-family='"Liberation Sans", sans-serif' font-size="40" font-weight="normal" letter-spacing="0.00" fill="#000" stroke="#000" stroke-width="1.7">4</text>
<line x1="197.0" y1="1174.7" x2="208.0" y2="1174.7" stroke="#000" stroke-width="2.5"/>
<text x="167.6" y="1189.1" font-family='"Liberation Sans", sans-serif' font-size="40" font-weight="normal" letter-spacing="0.00" fill="#000" stroke="#000" stroke-width="1.7">6</text>
<line x1="197.0" y1="1076.2" x2="208.0" y2="1076.2" stroke="#000" stroke-width="2.5"/>
<text x="167.4" y="1090.6" font-family='"Liberation Sans", sans-serif' font-size="40" font-weight="normal" letter-spacing="0.00" fill="#000" stroke="#000" stroke-width="1.7">8</text>
<line x1="291.2" y1="1262.2" x2="291.2" y2="1324.0" stroke="#6a6a6a" stroke-width="2.5"/>
<line x1="264.4" y1="1262.2" x2="318.0" y2="1262.2" stroke="#6a6a6a" stroke-width="2.5"/>
<line x1="264.4" y1="1324.0" x2="318.0" y2="1324.0" stroke="#6a6a6a" stroke-width="2.5"/>
<line x1="236.0" y1="1293.5" x2="345.5" y2="1293.5" stroke="#6a6a6a" stroke-width="3"/>
<rect x="282.9" y="1069.8" width="17" height="17" fill="#000"/>
<rect x="264.5" y="1217.4" width="17" height="17" fill="#000"/>
<rect x="301.5" y="1217.4" width="17" height="17" fill="#000"/>
<rect x="282.9" y="1265.8" width="17" height="17" fill="#000"/>
<rect x="246.2" y="1315.2" width="17" height="17" fill="#000"/>
<rect x="282.9" y="1315.2" width="17" height="17" fill="#000"/>
<rect x="319.9" y="1315.2" width="17" height="17" fill="#000"/>
<rect x="264.5" y="1365.0" width="17" height="17" fill="#000"/>
<rect x="301.5" y="1365.0" width="17" height="17" fill="#000"/>
<rect x="282.9" y="1414.5" width="17" height="17" fill="#000"/>
<polygon points="454.5,1265.8 464.0,1282.8 445.0,1282.8" fill="#808080"/>
<polygon points="432.7,1315.2 442.2,1332.2 423.2,1332.2" fill="#808080"/>
<polygon points="454.5,1315.2 464.0,1332.2 445.0,1332.2" fill="#808080"/>
<polygon points="476.3,1315.2 485.8,1332.2 466.8,1332.2" fill="#808080"/>
<polygon points="410.3,1365.0 419.8,1382.0 400.8,1382.0" fill="#808080"/>
<polygon points="432.0,1365.0 441.5,1382.0 422.5,1382.0" fill="#808080"/>
<polygon points="454.5,1365.0 464.0,1382.0 445.0,1382.0" fill="#808080"/>
<polygon points="476.3,1365.0 485.8,1382.0 466.8,1382.0" fill="#808080"/>
<polygon points="497.7,1365.0 507.2,1382.0 488.2,1382.0" fill="#808080"/>
<line x1="453.4" y1="1332.0" x2="453.4" y2="1358.3" stroke="#808080" stroke-width="2.5"/>
<line x1="425.8" y1="1332.0" x2="481.0" y2="1332.0" stroke="#808080" stroke-width="2.5"/>
<line x1="425.8" y1="1358.3" x2="481.0" y2="1358.3" stroke="#808080" stroke-width="2.5"/>
<line x1="399.2" y1="1345.1" x2="509.8" y2="1345.1" stroke="#000" stroke-width="3"/>
<path d="M289.6,1051.3 V1030 H454.5 V1248.4" stroke="#000" stroke-width="2.5" fill="none"/>
<text transform="translate(246.1,1524.7) scale(1.0835,1)" x="-0.2" y="0" font-family='"Liberation Sans", sans-serif' font-size="41" font-weight="normal" letter-spacing="0.00" fill="#000" stroke="#000" stroke-width="1.6">AIA</text>
<text transform="translate(377.8,1524.7) scale(1.1403,1)" x="-0.2" y="0" font-family='"Liberation Sans", sans-serif' font-size="41" font-weight="normal" letter-spacing="-0.00" fill="#000" stroke="#000" stroke-width="1.6">AIA-ice</text>
<text transform="translate(226.2,1574.1) scale(1.0943,1)" x="-2.5" y="0" font-family='"Liberation Sans", sans-serif' font-size="41" font-weight="normal" letter-spacing="-0.00" fill="#000" stroke="#000" stroke-width="1.6">(n=10)</text>
<text transform="translate(407.8,1574.1) scale(1.1019,1)" x="-2.5" y="0" font-family='"Liberation Sans", sans-serif' font-size="41" font-weight="normal" letter-spacing="0.00" fill="#000" stroke="#000" stroke-width="1.6">(n=9)</text>
<text transform="translate(340.4,1002.3) scale(1.1248,1)" x="-3.8" y="0" font-family='"Liberation Sans", sans-serif' font-size="58" font-weight="normal" letter-spacing="-0.00" fill="#000">ns</text>
<text transform="translate(115.0,1425.3) rotate(-90)" x="-2.1" y="0" font-family='"Liberation Sans", sans-serif' font-size="46" font-weight="normal" letter-spacing="4.87" fill="#000" stroke="#000" stroke-width="0.5">Swelling (/8)</text>
<text x="612.4" y="1015.0" font-family='"Liberation Sans", sans-serif' font-size="76" font-weight="bold">E</text>
<line x1="839.5" y1="1057.0" x2="839.5" y2="1456.2" stroke="#000" stroke-width="2.5"/>
<line x1="826.4" y1="1455.0" x2="1168.6" y2="1455.0" stroke="#000" stroke-width="2.5"/>
<line x1="828.5" y1="1455.0" x2="839.5" y2="1455.0" stroke="#000" stroke-width="2.5"/>
<text x="798.9" y="1469.4" font-family='"Liberation Sans", sans-serif' font-size="40" font-weight="normal" letter-spacing="0.00" fill="#000" stroke="#000" stroke-width="1.7">0</text>
<line x1="828.5" y1="1355.8" x2="839.5" y2="1355.8" stroke="#000" stroke-width="2.5"/>
<text x="799.3" y="1370.2" font-family='"Liberation Sans", sans-serif' font-size="40" font-weight="normal" letter-spacing="0.00" fill="#000" stroke="#000" stroke-width="1.7">2</text>
<line x1="828.5" y1="1256.7" x2="839.5" y2="1256.7" stroke="#000" stroke-width="2.5"/>
<text x="798.5" y="1271.1" font-family='"Liberation Sans", sans-serif' font-size="40" font-weight="normal" letter-spacing="0.00" fill="#000" stroke="#000" stroke-width="1.7">4</text>
<line x1="828.5" y1="1157.5" x2="839.5" y2="1157.5" stroke="#000" stroke-width="2.5"/>
<text x="799.1" y="1171.9" font-family='"Liberation Sans", sans-serif' font-size="40" font-weight="normal" letter-spacing="0.00" fill="#000" stroke="#000" stroke-width="1.7">6</text>
<line x1="828.5" y1="1058.3" x2="839.5" y2="1058.3" stroke="#000" stroke-width="2.5"/>
<text x="798.9" y="1072.7" font-family='"Liberation Sans", sans-serif' font-size="40" font-weight="normal" letter-spacing="0.00" fill="#000" stroke="#000" stroke-width="1.7">8</text>
<line x1="921.5" y1="1236.3" x2="921.5" y2="1276.0" stroke="#000" stroke-width="2.5"/>
<line x1="893.8" y1="1236.3" x2="949.1" y2="1236.3" stroke="#6a6a6a" stroke-width="2.5"/>
<line x1="893.8" y1="1276.0" x2="949.1" y2="1276.0" stroke="#000" stroke-width="2.5"/>
<line x1="868.0" y1="1257.0" x2="975.0" y2="1257.0" stroke="#000" stroke-width="3"/>
<rect x="913.0" y="1101.5" width="17" height="17" fill="#000"/>
<rect x="868.0" y="1248.5" width="17" height="17" fill="#000"/>
<rect x="883.0" y="1248.5" width="17" height="17" fill="#000"/>
<rect x="898.0" y="1248.5" width="17" height="17" fill="#000"/>
<rect x="913.0" y="1248.5" width="17" height="17" fill="#000"/>
<rect x="928.0" y="1248.5" width="17" height="17" fill="#000"/>
<rect x="943.0" y="1248.5" width="17" height="17" fill="#000"/>
<rect x="958.0" y="1248.5" width="17" height="17" fill="#000"/>
<rect x="913.0" y="1298.5" width="17" height="17" fill="#000"/>
<rect x="913.0" y="1348.7" width="17" height="17" fill="#000"/>
<polygon points="1084.0,1249.5 1093.5,1266.5 1074.5,1266.5" fill="#808080"/>
<polygon points="1040.7,1348.7 1050.2,1365.7 1031.2,1365.7" fill="#808080"/>
<polygon points="1062.1,1348.7 1071.6,1365.7 1052.6,1365.7" fill="#808080"/>
<polygon points="1084.0,1348.7 1093.5,1365.7 1074.5,1365.7" fill="#808080"/>
<polygon points="1105.7,1348.7 1115.2,1365.7 1096.2,1365.7" fill="#808080"/>
<polygon points="1127.8,1348.7 1137.3,1365.7 1118.3,1365.7" fill="#808080"/>
<polygon points="1072.8,1398.2 1082.3,1415.2 1063.3,1415.2" fill="#808080"/>
<polygon points="1095.0,1398.2 1104.5,1415.2 1085.5,1415.2" fill="#808080"/>
<polygon points="1084.0,1447.2 1093.5,1464.2 1074.5,1464.2" fill="#808080"/>
<line x1="1084.5" y1="1348.6" x2="1084.5" y2="1386.0" stroke="#808080" stroke-width="2.5"/>
<line x1="1058.0" y1="1348.6" x2="1110.9" y2="1348.6" stroke="#808080" stroke-width="2.5"/>
<line x1="1058.0" y1="1386.0" x2="1110.9" y2="1386.0" stroke="#808080" stroke-width="2.5"/>
<line x1="1028.6" y1="1366.6" x2="1139.2" y2="1366.6" stroke="#000" stroke-width="3"/>
<path d="M919.7,1086 V1060.7 H1083.2 V1232.8" stroke="#000" stroke-width="2.5" fill="none"/>
<text transform="translate(876.1,1509.0) scale(1.0835,1)" x="-0.2" y="0" font-family='"Liberation Sans", sans-serif' font-size="41" font-weight="normal" letter-spacing="0.00" fill="#000" stroke="#000" stroke-width="1.6">AIA</text>
<text transform="translate(1001.6,1509.0) scale(1.148,1)" x="-0.2" y="0" font-family='"Liberation Sans", sans-serif' font-size="41" font-weight="normal" letter-spacing="-0.00" fill="#000" stroke="#000" stroke-width="1.6">AIA-ice</text>
<text transform="translate(856.2,1558.4) scale(1.0943,1)" x="-2.5" y="0" font-family='"Liberation Sans", sans-serif' font-size="41" font-weight="normal" letter-spacing="-0.00" fill="#000" stroke="#000" stroke-width="1.6">(n=10)</text>
<text transform="translate(1032.0,1558.4) scale(1.1074,1)" x="-2.5" y="0" font-family='"Liberation Sans", sans-serif' font-size="41" font-weight="normal" letter-spacing="-0.00" fill="#000" stroke="#000" stroke-width="1.6">(n=9)</text>
<text x="962.7" y="1060.8" font-family='"DejaVu Sans", sans-serif' font-size="66.7" font-weight="bold" fill="#000">*</text>
<text x="1008.2" y="1060.8" font-family='"DejaVu Sans", sans-serif' font-size="66.7" font-weight="bold" fill="#000">*</text>
<text transform="translate(745.5,1475.0) rotate(-90)" x="-2.1" y="0" font-family='"Liberation Sans", sans-serif' font-size="53" font-weight="bold" letter-spacing="0.49" fill="#000">Osteoporosis (/8)</text>
<text x="1233.1" y="1015.4" font-family='"Liberation Sans", sans-serif' font-size="76" font-weight="bold">F</text>
<line x1="1480.0" y1="1056.5" x2="1480.0" y2="1455.2" stroke="#000" stroke-width="2.5"/>
<line x1="1470.0" y1="1454.0" x2="1810.0" y2="1454.0" stroke="#000" stroke-width="2.5"/>
<line x1="1469.0" y1="1454.0" x2="1480.0" y2="1454.0" stroke="#000" stroke-width="2.5"/>
<text x="1439.4" y="1468.4" font-family='"Liberation Sans", sans-serif' font-size="40" font-weight="normal" letter-spacing="0.00" fill="#000" stroke="#000" stroke-width="1.7">0</text>
<line x1="1469.0" y1="1355.0" x2="1480.0" y2="1355.0" stroke="#000" stroke-width="2.5"/>
<text x="1439.8" y="1369.4" font-family='"Liberation Sans", sans-serif' font-size="40" font-weight="normal" letter-spacing="0.00" fill="#000" stroke="#000" stroke-width="1.7">2</text>
<line x1="1469.0" y1="1255.9" x2="1480.0" y2="1255.9" stroke="#000" stroke-width="2.5"/>
<text x="1439.0" y="1270.3" font-family='"Liberation Sans", sans-serif' font-size="40" font-weight="normal" letter-spacing="0.00" fill="#000" stroke="#000" stroke-width="1.7">4</text>
<line x1="1469.0" y1="1156.8" x2="1480.0" y2="1156.8" stroke="#000" stroke-width="2.5"/>
<text x="1439.6" y="1171.2" font-family='"Liberation Sans", sans-serif' font-size="40" font-weight="normal" letter-spacing="0.00" fill="#000" stroke="#000" stroke-width="1.7">6</text>
<line x1="1469.0" y1="1057.8" x2="1480.0" y2="1057.8" stroke="#000" stroke-width="2.5"/>
<text x="1439.4" y="1072.2" font-family='"Liberation Sans", sans-serif' font-size="40" font-weight="normal" letter-spacing="0.00" fill="#000" stroke="#000" stroke-width="1.7">8</text>
<line x1="1562.0" y1="1189.4" x2="1562.0" y2="1245.2" stroke="#000" stroke-width="2.5"/>
<line x1="1534.4" y1="1189.4" x2="1589.6" y2="1189.4" stroke="#000" stroke-width="2.5"/>
<line x1="1534.4" y1="1245.2" x2="1589.6" y2="1245.2" stroke="#000" stroke-width="2.5"/>
<line x1="1506.9" y1="1217.0" x2="1619.0" y2="1217.0" stroke="#000" stroke-width="3"/>
<rect x="1554.5" y="1051.2" width="17" height="17" fill="#000"/>
<rect x="1540.5" y="1150.4" width="17" height="17" fill="#000"/>
<rect x="1567.1" y="1150.4" width="17" height="17" fill="#000"/>
<rect x="1513.1" y="1198.2" width="17" height="17" fill="#000"/>
<rect x="1540.5" y="1198.2" width="17" height="17" fill="#000"/>
<rect x="1567.1" y="1198.2" width="17" height="17" fill="#000"/>
<rect x="1595.0" y="1198.2" width="17" height="17" fill="#000"/>
<rect x="1554.5" y="1248.9" width="17" height="17" fill="#000"/>
<rect x="1540.5" y="1348.8" width="17" height="17" fill="#000"/>
<rect x="1567.1" y="1348.8" width="17" height="17" fill="#000"/>
<polygon points="1726.3,1200.0 1735.8,1217.0 1716.8,1217.0" fill="#808080"/>
<polygon points="1689.5,1249.5 1699.0,1266.5 1680.0,1266.5" fill="#808080"/>
<polygon points="1726.3,1249.5 1735.8,1266.5 1716.8,1266.5" fill="#808080"/>
<polygon points="1762.3,1249.5 1771.8,1266.5 1752.8,1266.5" fill="#808080"/>
<polygon points="1689.5,1299.2 1699.0,1316.2 1680.0,1316.2" fill="#808080"/>
<polygon points="1726.3,1299.2 1735.8,1316.2 1716.8,1316.2" fill="#808080"/>
<polygon points="1762.3,1299.2 1771.8,1316.2 1752.8,1316.2" fill="#808080"/>
<polygon points="1726.3,1348.8 1735.8,1365.8 1716.8,1365.8" fill="#808080"/>
<polygon points="1726.3,1448.1 1735.8,1465.1 1716.8,1465.1" fill="#808080"/>
<line x1="1725.8" y1="1276.5" x2="1725.8" y2="1325.4" stroke="#808080" stroke-width="2.5"/>
<line x1="1698.7" y1="1276.5" x2="1753.0" y2="1276.5" stroke="#000" stroke-width="2.5"/>
<line x1="1698.7" y1="1325.4" x2="1753.0" y2="1325.4" stroke="#808080" stroke-width="2.5"/>
<line x1="1671.5" y1="1301.5" x2="1780.7" y2="1301.5" stroke="#000" stroke-width="3"/>
<path d="M1561,1035.8 V1010 H1724.4 V1182.8" stroke="#000" stroke-width="2.5" fill="none"/>
<text transform="translate(1517.1,1509.0) scale(1.0835,1)" x="-0.2" y="0" font-family='"Liberation Sans", sans-serif' font-size="41" font-weight="normal" letter-spacing="0.00" fill="#000" stroke="#000" stroke-width="1.6">AIA</text>
<text transform="translate(1647.3,1509.0) scale(1.148,1)" x="-0.2" y="0" font-family='"Liberation Sans", sans-serif' font-size="41" font-weight="normal" letter-spacing="-0.00" fill="#000" stroke="#000" stroke-width="1.6">AIA-ice</text>
<text transform="translate(1497.1,1558.4) scale(1.103,1)" x="-2.5" y="0" font-family='"Liberation Sans", sans-serif' font-size="41" font-weight="normal" letter-spacing="0.00" fill="#000" stroke="#000" stroke-width="1.6">(n=10)</text>
<text transform="translate(1678.7,1558.4) scale(1.0965,1)" x="-2.5" y="0" font-family='"Liberation Sans", sans-serif' font-size="41" font-weight="normal" letter-spacing="-0.00" fill="#000" stroke="#000" stroke-width="1.6">(n=9)</text>
<text x="1627.4" y="1012.6" font-family='"DejaVu Sans", sans-serif' font-size="66.7" font-weight="bold" fill="#000">*</text>
<text transform="translate(1384.5,1562.7) rotate(-90)" x="-2.1" y="0" font-family='"Liberation Sans", sans-serif' font-size="52.5" font-weight="bold" letter-spacing="0.29" fill="#000">Cartilage destruction (/8)</text>
<text x="3.9" y="1652.0" font-family='"Liberation Sans", sans-serif' font-size="76" font-weight="bold">G</text>
<line x1="217.8" y1="1717.0" x2="217.8" y2="2116.2" stroke="#000" stroke-width="2.5"/>
<line x1="204.0" y1="2115.0" x2="546.0" y2="2115.0" stroke="#000" stroke-width="2.5"/>
<line x1="206.8" y1="2115.0" x2="217.8" y2="2115.0" stroke="#000" stroke-width="2.5"/>
<text x="177.2" y="2129.4" font-family='"Liberation Sans", sans-serif' font-size="40" font-weight="normal" letter-spacing="0.00" fill="#000" stroke="#000" stroke-width="1.7">0</text>
<line x1="206.8" y1="2015.8" x2="217.8" y2="2015.8" stroke="#000" stroke-width="2.5"/>
<text x="177.6" y="2030.2" font-family='"Liberation Sans", sans-serif' font-size="40" font-weight="normal" letter-spacing="0.00" fill="#000" stroke="#000" stroke-width="1.7">2</text>
<line x1="206.8" y1="1916.7" x2="217.8" y2="1916.7" stroke="#000" stroke-width="2.5"/>
<text x="176.8" y="1931.1" font-family='"Liberation Sans", sans-serif' font-size="40" font-weight="normal" letter-spacing="0.00" fill="#000" stroke="#000" stroke-width="1.7">4</text>
<line x1="206.8" y1="1817.5" x2="217.8" y2="1817.5" stroke="#000" stroke-width="2.5"/>
<text x="177.4" y="1831.9" font-family='"Liberation Sans", sans-serif' font-size="40" font-weight="normal" letter-spacing="0.00" fill="#000" stroke="#000" stroke-width="1.7">6</text>
<line x1="206.8" y1="1718.3" x2="217.8" y2="1718.3" stroke="#000" stroke-width="2.5"/>
<text x="177.2" y="1732.7" font-family='"Liberation Sans", sans-serif' font-size="40" font-weight="normal" letter-spacing="0.00" fill="#000" stroke="#000" stroke-width="1.7">8</text>
<line x1="298.5" y1="1893.8" x2="298.5" y2="1948.8" stroke="#000" stroke-width="2.5"/>
<line x1="271.3" y1="1893.8" x2="325.6" y2="1893.8" stroke="#6a6a6a" stroke-width="2.5"/>
<line x1="271.3" y1="1948.8" x2="325.6" y2="1948.8" stroke="#000" stroke-width="2.5"/>
<line x1="245.4" y1="1921.2" x2="352.6" y2="1921.2" stroke="#6a6a6a" stroke-width="3"/>
<rect x="290.5" y="1710.8" width="17" height="17" fill="#000"/>
<rect x="290.5" y="1858.4" width="17" height="17" fill="#000"/>
<rect x="249.0" y="1908.5" width="17" height="17" fill="#000"/>
<rect x="276.7" y="1908.5" width="17" height="17" fill="#000"/>
<rect x="304.3" y="1908.5" width="17" height="17" fill="#000"/>
<rect x="332.0" y="1908.5" width="17" height="17" fill="#000"/>
<rect x="276.7" y="1957.9" width="17" height="17" fill="#000"/>
<rect x="304.3" y="1957.9" width="17" height="17" fill="#000"/>
<rect x="276.7" y="2007.7" width="17" height="17" fill="#000"/>
<rect x="304.3" y="2007.7" width="17" height="17" fill="#000"/>
<polygon points="462.5,1859.4 472.0,1876.4 453.0,1876.4" fill="#808080"/>
<polygon points="462.5,1910.2 472.0,1927.2 453.0,1927.2" fill="#808080"/>
<polygon points="444.2,1959.3 453.7,1976.3 434.7,1976.3" fill="#808080"/>
<polygon points="480.5,1959.3 490.0,1976.3 471.0,1976.3" fill="#808080"/>
<polygon points="425.8,2008.7 435.3,2025.7 416.3,2025.7" fill="#808080"/>
<polygon points="462.5,2008.7 472.0,2025.7 453.0,2025.7" fill="#808080"/>
<polygon points="498.8,2008.7 508.3,2025.7 489.3,2025.7" fill="#808080"/>
<polygon points="462.5,2058.9 472.0,2075.9 453.0,2075.9" fill="#808080"/>
<polygon points="462.5,2107.2 472.0,2124.2 453.0,2124.2" fill="#808080"/>
<line x1="462.2" y1="1967.0" x2="462.2" y2="2017.2" stroke="#6a6a6a" stroke-width="2.5"/>
<line x1="435.5" y1="1967.0" x2="489.0" y2="1967.0" stroke="#6a6a6a" stroke-width="2.5"/>
<line x1="435.5" y1="2017.2" x2="489.0" y2="2017.2" stroke="#6a6a6a" stroke-width="2.5"/>
<line x1="407.9" y1="1992.4" x2="517.4" y2="1992.4" stroke="#6a6a6a" stroke-width="3"/>
<path d="M298,1695.8 V1670.6 H461.4 V1842.7" stroke="#000" stroke-width="2.5" fill="none"/>
<text transform="translate(259.0,2167.8) scale(1.0835,1)" x="-0.2" y="0" font-family='"Liberation Sans", sans-serif' font-size="41" font-weight="normal" letter-spacing="0.00" fill="#000" stroke="#000" stroke-width="1.6">AIA</text>
<text transform="translate(384.4,2167.8) scale(1.141,1)" x="-0.2" y="0" font-family='"Liberation Sans", sans-serif' font-size="41" font-weight="normal" letter-spacing="0.00" fill="#000" stroke="#000" stroke-width="1.6">AIA-ice</text>
<text transform="translate(233.3,2217.2) scale(1.103,1)" x="-2.5" y="0" font-family='"Liberation Sans", sans-serif' font-size="41" font-weight="normal" letter-spacing="0.00" fill="#000" stroke="#000" stroke-width="1.6">(n=10)</text>
<text transform="translate(409.2,2217.2) scale(1.1074,1)" x="-2.5" y="0" font-family='"Liberation Sans", sans-serif' font-size="41" font-weight="normal" letter-spacing="-0.00" fill="#000" stroke="#000" stroke-width="1.6">(n=9)</text>
<text transform="translate(347.4,1643.3) scale(1.1229,1)" x="-3.8" y="0" font-family='"Liberation Sans", sans-serif' font-size="58" font-weight="normal" letter-spacing="0.00" fill="#000">ns</text>
<text transform="translate(120.0,2130.8) rotate(-90)" x="-3.4" y="0" font-family='"Liberation Sans", sans-serif' font-size="53" font-weight="bold" letter-spacing="0.44" fill="#000">Bone erosion (/8)</text>
<text x="604.1" y="1652.9" font-family='"Liberation Sans", sans-serif' font-size="76" font-weight="bold">H</text>
<line x1="870.3" y1="1710.0" x2="870.3" y2="2109.3" stroke="#000" stroke-width="2.5"/>
<line x1="857.5" y1="2108.1" x2="1203.0" y2="2108.1" stroke="#000" stroke-width="2.5"/>
<line x1="859.3" y1="2108.1" x2="870.3" y2="2108.1" stroke="#000" stroke-width="2.5"/>
<text x="829.7" y="2122.5" font-family='"Liberation Sans", sans-serif' font-size="40" font-weight="normal" letter-spacing="0.00" fill="#000" stroke="#000" stroke-width="1.7">0</text>
<line x1="859.3" y1="2008.9" x2="870.3" y2="2008.9" stroke="#000" stroke-width="2.5"/>
<text x="807.5" y="2023.3" font-family='"Liberation Sans", sans-serif' font-size="40" font-weight="normal" letter-spacing="-0.00" fill="#000" stroke="#000" stroke-width="1.7">10</text>
<line x1="859.3" y1="1909.7" x2="870.3" y2="1909.7" stroke="#000" stroke-width="2.5"/>
<text x="807.5" y="1924.1" font-family='"Liberation Sans", sans-serif' font-size="40" font-weight="normal" letter-spacing="-0.00" fill="#000" stroke="#000" stroke-width="1.7">20</text>
<line x1="859.3" y1="1810.5" x2="870.3" y2="1810.5" stroke="#000" stroke-width="2.5"/>
<text x="807.5" y="1824.9" font-family='"Liberation Sans", sans-serif' font-size="40" font-weight="normal" letter-spacing="0.00" fill="#000" stroke="#000" stroke-width="1.7">30</text>
<line x1="859.3" y1="1711.3" x2="870.3" y2="1711.3" stroke="#000" stroke-width="2.5"/>
<text x="807.5" y="1725.7" font-family='"Liberation Sans", sans-serif' font-size="40" font-weight="normal" letter-spacing="-0.00" fill="#000" stroke="#000" stroke-width="1.7">40</text>
<line x1="951.8" y1="1926.3" x2="951.8" y2="1966.4" stroke="#000" stroke-width="2.5"/>
<line x1="925.0" y1="1926.3" x2="978.5" y2="1926.3" stroke="#000" stroke-width="2.5"/>
<line x1="925.0" y1="1966.4" x2="978.5" y2="1966.4" stroke="#000" stroke-width="2.5"/>
<line x1="898.0" y1="1945.3" x2="1006.0" y2="1945.3" stroke="#6a6a6a" stroke-width="3"/>
<rect x="944.1" y="1792.7" width="17" height="17" fill="#000"/>
<rect x="926.1" y="1901.5" width="17" height="17" fill="#000"/>
<rect x="962.4" y="1911.9" width="17" height="17" fill="#000"/>
<rect x="962.4" y="1932.0" width="17" height="17" fill="#000"/>
<rect x="926.1" y="1942.0" width="17" height="17" fill="#000"/>
<rect x="907.8" y="1951.7" width="17" height="17" fill="#000"/>
<rect x="944.1" y="1971.7" width="17" height="17" fill="#000"/>
<rect x="980.4" y="1971.7" width="17" height="17" fill="#000"/>
<rect x="926.1" y="2001.8" width="17" height="17" fill="#000"/>
<rect x="962.4" y="2011.1" width="17" height="17" fill="#000"/>
<polygon points="1115.0,1922.3 1124.5,1939.3 1105.5,1939.3" fill="#808080"/>
<polygon points="1115.0,1981.1 1124.5,1998.1 1105.5,1998.1" fill="#808080"/>
<polygon points="1070.8,2002.5 1080.3,2019.5 1061.3,2019.5" fill="#808080"/>
<polygon points="1092.5,2002.5 1102.0,2019.5 1083.0,2019.5" fill="#808080"/>
<polygon points="1136.8,2002.5 1146.3,2019.5 1127.3,2019.5" fill="#808080"/>
<polygon points="1158.9,2002.5 1168.4,2019.5 1149.4,2019.5" fill="#808080"/>
<polygon points="1115.0,2021.9 1124.5,2038.9 1105.5,2038.9" fill="#808080"/>
<polygon points="1104.6,2041.5 1114.1,2058.5 1095.1,2058.5" fill="#808080"/>
<polygon points="1126.0,2051.9 1135.5,2068.9 1116.5,2068.9" fill="#808080"/>
<line x1="1115.5" y1="1999.0" x2="1115.5" y2="2023.0" stroke="#808080" stroke-width="2.5"/>
<line x1="1089.0" y1="1999.0" x2="1142.0" y2="1999.0" stroke="#808080" stroke-width="2.5"/>
<line x1="1089.0" y1="2023.0" x2="1142.0" y2="2023.0" stroke="#808080" stroke-width="2.5"/>
<line x1="1062.5" y1="2011.0" x2="1169.6" y2="2011.0" stroke="#444" stroke-width="3"/>
<path d="M951.5,1777 V1755.6 H1115 V1905" stroke="#000" stroke-width="2.5" fill="none"/>
<text transform="translate(912.8,2162.1) scale(1.0835,1)" x="-0.2" y="0" font-family='"Liberation Sans", sans-serif' font-size="41" font-weight="normal" letter-spacing="0.00" fill="#000" stroke="#000" stroke-width="1.6">AIA</text>
<text transform="translate(1038.3,2162.1) scale(1.1403,1)" x="-0.2" y="0" font-family='"Liberation Sans", sans-serif' font-size="41" font-weight="normal" letter-spacing="-0.00" fill="#000" stroke="#000" stroke-width="1.6">AIA-ice</text>
<text transform="translate(887.1,2211.5) scale(1.0952,1)" x="-2.5" y="0" font-family='"Liberation Sans", sans-serif' font-size="41" font-weight="normal" letter-spacing="-0.00" fill="#000" stroke="#000" stroke-width="1.6">(n=10)</text>
<text transform="translate(1063.0,2211.5) scale(1.1074,1)" x="-2.5" y="0" font-family='"Liberation Sans", sans-serif' font-size="41" font-weight="normal" letter-spacing="-0.00" fill="#000" stroke="#000" stroke-width="1.6">(n=9)</text>
<text x="1014.7" y="1752.1" font-family='"DejaVu Sans", sans-serif' font-size="66.7" font-weight="bold" fill="#000">*</text>
<text transform="translate(752.0,2188.3) rotate(-90)" x="-3.4" y="0" font-family='"Liberation Sans", sans-serif' font-size="53" font-weight="bold" letter-spacing="0.26" fill="#000">Bone destruction (/32)</text>
<text x="1241.9" y="1652.6" font-family='"Liberation Sans", sans-serif' font-size="76" font-weight="bold">I</text>
<line x1="1483.0" y1="1709.2" x2="1483.0" y2="2108.9" stroke="#000" stroke-width="2.5"/>
<line x1="1472.7" y1="2107.7" x2="1812.0" y2="2107.7" stroke="#000" stroke-width="2.5"/>
<line x1="1472.0" y1="2107.7" x2="1483.0" y2="2107.7" stroke="#000" stroke-width="2.5"/>
<text x="1442.4" y="2122.1" font-family='"Liberation Sans", sans-serif' font-size="40" font-weight="normal" letter-spacing="0.00" fill="#000" stroke="#000" stroke-width="1.7">0</text>
<line x1="1472.0" y1="2008.4" x2="1483.0" y2="2008.4" stroke="#000" stroke-width="2.5"/>
<text x="1442.8" y="2022.8" font-family='"Liberation Sans", sans-serif' font-size="40" font-weight="normal" letter-spacing="0.00" fill="#000" stroke="#000" stroke-width="1.7">2</text>
<line x1="1472.0" y1="1909.1" x2="1483.0" y2="1909.1" stroke="#000" stroke-width="2.5"/>
<text x="1442.0" y="1923.5" font-family='"Liberation Sans", sans-serif' font-size="40" font-weight="normal" letter-spacing="0.00" fill="#000" stroke="#000" stroke-width="1.7">4</text>
<line x1="1472.0" y1="1809.8" x2="1483.0" y2="1809.8" stroke="#000" stroke-width="2.5"/>
<text x="1442.6" y="1824.2" font-family='"Liberation Sans", sans-serif' font-size="40" font-weight="normal" letter-spacing="0.00" fill="#000" stroke="#000" stroke-width="1.7">6</text>
<line x1="1472.0" y1="1710.5" x2="1483.0" y2="1710.5" stroke="#000" stroke-width="2.5"/>
<text x="1442.4" y="1724.9" font-family='"Liberation Sans", sans-serif' font-size="40" font-weight="normal" letter-spacing="0.00" fill="#000" stroke="#000" stroke-width="1.7">8</text>
<line x1="1565.6" y1="1902.0" x2="1565.6" y2="1938.3" stroke="#000" stroke-width="2.5"/>
<line x1="1538.0" y1="1902.0" x2="1593.2" y2="1902.0" stroke="#000" stroke-width="2.5"/>
<line x1="1538.0" y1="1938.3" x2="1593.2" y2="1938.3" stroke="#000" stroke-width="2.5"/>
<line x1="1510.5" y1="1920.0" x2="1620.8" y2="1920.0" stroke="#6a6a6a" stroke-width="3"/>
<rect x="1557.9" y="1803.8" width="17" height="17" fill="#000"/>
<rect x="1514.0" y="1902.3" width="17" height="17" fill="#000"/>
<rect x="1531.6" y="1902.3" width="17" height="17" fill="#000"/>
<rect x="1549.2" y="1902.3" width="17" height="17" fill="#000"/>
<rect x="1566.8" y="1902.3" width="17" height="17" fill="#000"/>
<rect x="1584.4" y="1902.3" width="17" height="17" fill="#000"/>
<rect x="1602.0" y="1902.3" width="17" height="17" fill="#000"/>
<rect x="1547.2" y="1950.0" width="17" height="17" fill="#000"/>
<rect x="1567.1" y="1950.0" width="17" height="17" fill="#000"/>
<rect x="1557.9" y="2000.8" width="17" height="17" fill="#000"/>
<polygon points="1718.2,1852.5 1727.7,1869.5 1708.7,1869.5" fill="#808080"/>
<polygon points="1739.5,1852.5 1749.0,1869.5 1730.0,1869.5" fill="#808080"/>
<polygon points="1685.8,1900.5 1695.3,1917.5 1676.3,1917.5" fill="#808080"/>
<polygon points="1707.9,1900.5 1717.4,1917.5 1698.4,1917.5" fill="#808080"/>
<polygon points="1729.2,1900.5 1738.7,1917.5 1719.7,1917.5" fill="#808080"/>
<polygon points="1750.5,1900.5 1760.0,1917.5 1741.0,1917.5" fill="#808080"/>
<polygon points="1772.2,1900.5 1781.7,1917.5 1762.7,1917.5" fill="#808080"/>
<polygon points="1729.2,1951.9 1738.7,1968.9 1719.7,1968.9" fill="#808080"/>
<polygon points="1729.2,2000.8 1738.7,2017.8 1719.7,2017.8" fill="#808080"/>
<line x1="1728.7" y1="1899.0" x2="1728.7" y2="1929.9" stroke="#808080" stroke-width="2.5"/>
<line x1="1701.7" y1="1899.0" x2="1755.7" y2="1899.0" stroke="#808080" stroke-width="2.5"/>
<line x1="1701.7" y1="1929.9" x2="1755.7" y2="1929.9" stroke="#808080" stroke-width="2.5"/>
<line x1="1674.0" y1="1914.4" x2="1782.5" y2="1914.4" stroke="#000" stroke-width="3"/>
<path d="M1564.6,1787.6 V1763 H1728.1 V1836.2" stroke="#000" stroke-width="2.5" fill="none"/>
<text transform="translate(1527.1,2161.7) scale(1.0683,1)" x="-0.2" y="0" font-family='"Liberation Sans", sans-serif' font-size="41" font-weight="normal" letter-spacing="0.00" fill="#000" stroke="#000" stroke-width="1.6">AIA</text>
<text transform="translate(1646.8,2161.7) scale(1.141,1)" x="-0.2" y="0" font-family='"Liberation Sans", sans-serif' font-size="41" font-weight="normal" letter-spacing="0.00" fill="#000" stroke="#000" stroke-width="1.6">AIA-ice</text>
<text transform="translate(1512.8,2211.5) scale(1.1074,1)" x="-2.5" y="0" font-family='"Liberation Sans", sans-serif' font-size="41" font-weight="normal" letter-spacing="-0.00" fill="#000" stroke="#000" stroke-width="1.6">(n=9)</text>
<text transform="translate(1675.4,2211.5) scale(1.1074,1)" x="-2.5" y="0" font-family='"Liberation Sans", sans-serif' font-size="41" font-weight="normal" letter-spacing="-0.00" fill="#000" stroke="#000" stroke-width="1.6">(n=9)</text>
<text transform="translate(1613.4,1735.0) scale(1.1627,1)" x="-3.8" y="0" font-family='"Liberation Sans", sans-serif' font-size="58" font-weight="normal" letter-spacing="-0.00" fill="#000">ns</text>
<text transform="translate(1390.0,2204.8) rotate(-90)" x="-3.4" y="0" font-family='"Liberation Sans", sans-serif' font-size="52" font-weight="bold" letter-spacing="1.16" fill="#000">Bone neoformation (/8)</text>
</svg>
</body></html>
